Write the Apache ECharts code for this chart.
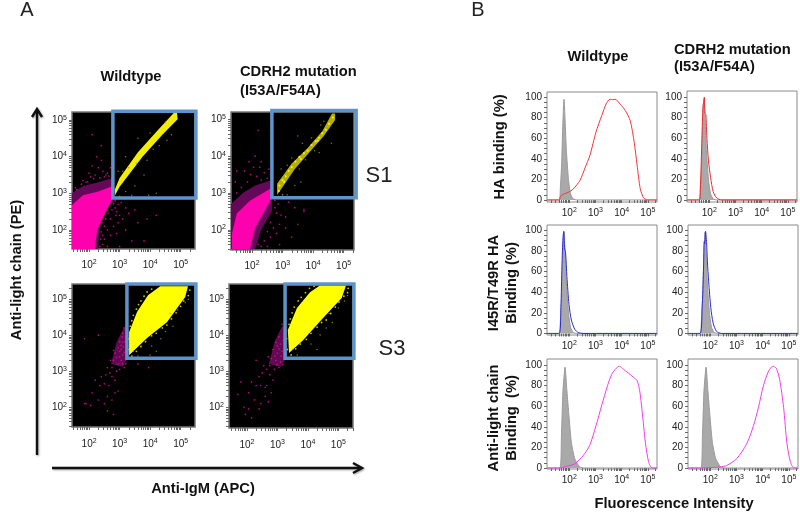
<!DOCTYPE html>
<html><head><meta charset="utf-8">
<style>html,body{margin:0;padding:0;background:#fff}#c{width:800px;height:514px}</style>
<script src="https://cdn.jsdelivr.net/npm/echarts@6/dist/echarts.min.js"></script>
</head><body><div id="c"></div>
<script>
// All x/y values below are log10(fluorescence).
const tickExponents = [2, 3, 4, 5];
const histTicks = [0, 20, 40, 60, 80, 100];

// Panel A: dense populations (outlines) and individually read speckle
const a1Dense = [[1.44,1.48],[2.19,1.48],[2.26,2.0],[2.5,2.4],[2.78,2.87],[2.78,3.2],[2.3,3.05],[1.8,2.95],[1.44,2.68]];
const a1Halo = [[1.44,1.48],[1.44,3.0],[1.8,3.2],[2.3,3.3],[2.78,3.42],[2.78,2.76],[2.46,2.46],[2.32,1.9],[2.3,1.48]];
const a1Yellow = [[2.84,3.1],[3.0,3.42],[3.6,4.12],[4.25,4.72],[4.78,5.2],[4.88,5.2],[4.9,5.02],[4.4,4.6],[3.75,4.0],[3.0,3.18],[2.85,2.95]];
const a1Pink = [[1.6,3.1],[1.75,3.25],[1.9,3.3],[2.05,3.45],[2.2,3.5],[2.1,3.75],[2.3,3.7],[2.4,3.9],[2.25,4.0],[2.45,3.6],[2.55,3.5],[2.6,3.55],[2.7,3.7],[2.0,3.55],[1.8,3.35],[1.55,3.15],[2.35,3.42],[2.5,3.45],[2.65,3.47],[2.1,4.6],[2.4,4.3],[2.15,3.4],[1.95,3.32],[2.85,2.8],[2.95,2.7],[3.05,2.75],[3.2,2.6],[2.9,2.5],[3.0,2.4],[3.1,2.3],[3.3,2.45],[3.5,2.55],[2.7,2.3],[2.8,2.1],[2.6,2.0],[2.7,1.85],[2.5,1.75],[2.9,1.9],[3.2,2.0],[3.6,2.2],[3.9,2.3],[4.2,2.4],[3.4,1.7],[3.8,1.7],[2.45,1.6],[2.6,1.55],[2.35,1.55],[3.0,1.55],[2.85,2.6],[2.95,2.2],[2.42,2.2],[2.5,2.1],[2.55,2.3],[2.62,2.45],[2.75,2.55],[2.4,1.95],[2.38,1.75],[2.45,1.85],[2.8,2.72],[2.88,2.4]];
const a1Olive = [[3.6,4.5],[3.2,3.05],[3.5,3.2],[3.0,2.92],[3.9,3.9],[4.3,4.3],[4.7,4.6],[4.2,3.0],[3.8,3.5],[3.1,3.6],[3.3,3.7],[3.55,3.82],[4.0,4.65],[4.5,4.95],[4.1,4.2],[3.4,2.95],[3.95,2.95],[4.55,4.45],[3.2,4.0],[2.95,3.6]];
const a2Dense = [[1.34,1.48],[1.93,1.48],[2.10,2.05],[2.65,2.87],[2.65,3.14],[1.93,2.79],[1.5,2.44],[1.34,1.89]];
const a2Halo = [[1.31,1.48],[1.31,2.7],[1.7,3.0],[2.1,3.2],[2.65,3.35],[2.65,2.5],[2.3,2.0],[2.1,1.48]];
const a2Yellow = [[2.82,3.25],[3.3,3.8],[3.8,4.2],[4.3,4.68],[4.62,5.16],[4.72,5.16],[4.72,4.98],[4.35,4.55],[3.85,4.08],[3.4,3.65],[2.95,3.1],[2.82,2.95]];
const a2Bright = [[2.9,3.2],[3.0,3.35],[3.1,3.45],[3.2,3.6],[3.3,3.7],[3.42,3.85],[3.55,3.98],[3.7,4.08],[3.82,4.15],[3.95,4.3],[4.08,4.4],[4.2,4.5],[4.3,4.62],[4.42,4.72],[4.52,4.88],[4.65,5.05],[3.05,3.3],[3.6,3.92],[4.15,4.42],[2.88,3.05]];
const a2Pink = [[1.5,3.0],[1.65,3.15],[1.85,3.3],[1.95,3.5],[2.15,3.45],[2.05,3.7],[2.25,3.7],[2.3,3.85],[2.1,4.0],[2.4,3.55],[2.5,3.4],[2.55,3.65],[1.9,3.85],[2.2,4.7],[1.75,3.6],[1.45,3.3],[2.3,3.35],[1.5,3.6],[2.6,3.5],[2.75,2.8],[2.85,2.7],[3.0,2.85],[3.2,2.75],[2.8,2.45],[2.95,2.4],[3.1,2.35],[3.4,2.6],[3.7,2.5],[2.6,2.2],[2.7,2.05],[2.5,1.95],[2.6,1.8],[2.4,1.7],[2.8,1.9],[3.1,2.05],[3.5,2.15],[3.7,2.55],[3.3,1.8],[2.3,1.55],[2.5,1.55],[2.2,1.6],[2.9,1.6],[2.75,2.6],[2.9,2.15],[3.0,2.95]];
const a2Olive = [[3.5,4.55],[3.0,2.95],[3.15,2.95],[3.4,3.2],[3.75,3.9],[4.2,4.1],[4.6,4.35],[3.6,3.3],[3.15,3.75],[3.3,3.95],[3.65,4.35],[3.95,4.5],[4.35,4.95],[4.05,4.15],[4.45,4.75],[3.05,3.45],[4.25,4.85],[3.95,4.25],[2.95,3.65],[3.55,3.65]];
const a3Yellow = [[3.31,3.44],[3.31,4.08],[3.57,4.64],[3.93,5.11],[4.33,5.36],[5.24,5.36],[5.15,5.06],[4.55,4.36],[3.9,3.92]];
const a3Edge = [[3.4,4.4],[3.45,4.55],[3.55,4.72],[3.62,4.85],[3.7,4.95],[3.8,5.08],[3.9,5.2],[4.05,5.28],[3.35,4.25],[3.28,3.9],[3.3,3.6],[3.4,3.42],[3.55,3.55],[3.7,3.68],[3.85,3.82],[4.05,3.98],[4.2,4.05],[4.4,4.2],[4.55,4.28],[4.7,4.45],[4.85,4.62],[5.0,4.8],[5.1,4.95],[5.25,5.1],[5.3,5.25],[3.5,4.3],[3.45,3.95],[3.42,3.7]];
const a3Pink = [[3.15,4.2],[3.2,3.95],[3.1,3.8],[3.25,3.7],[3.05,3.6],[3.2,3.55],[2.95,3.65],[3.1,3.45],[3.0,3.4],[3.22,3.35],[2.85,3.5],[2.8,3.3],[2.95,3.2],[3.1,3.2],[2.7,3.3],[2.75,3.1],[2.9,3.0],[3.0,3.05],[2.6,3.1],[2.55,2.9],[2.75,2.85],[2.85,2.75],[2.4,2.85],[2.5,2.65],[2.65,2.6],[2.35,2.6],[2.2,2.75],[2.1,2.4],[2.6,2.3],[2.85,2.4],[2.3,2.2],[2.5,2.1],[2.75,2.2],[1.9,2.1],[2.05,2.05],[2.6,1.9],[2.8,1.8],[1.85,2.1],[2.95,2.45],[3.05,3.3],[3.15,3.1],[3.0,3.55],[3.12,3.68],[3.18,3.82],[3.08,3.95],[3.0,3.82],[2.9,3.38],[2.8,3.58],[3.2,3.2],[2.68,2.95],[1.85,3.9],[2.3,4.0],[3.6,3.2],[3.95,3.1],[3.05,3.72],[3.15,3.52],[3.22,4.05],[3.1,4.05]];
const a3Cluster = [[2.72,3.2],[3.1,3.12],[3.28,3.38],[3.28,4.15],[3.15,4.22],[2.9,3.8]];
const a3Olive = [[3.45,3.55],[3.6,3.42],[4.05,3.7],[4.2,3.55],[4.5,4.1],[4.75,4.25],[4.9,4.7],[5.15,4.9],[3.7,3.7],[4.35,3.9],[4.0,3.45],[5.25,5.0],[4.65,4.6]];
const a4Yellow = [[3.38,3.5],[3.34,4.14],[3.64,4.75],[4.07,5.19],[4.39,5.38],[5.25,5.38],[5.11,5.03],[4.49,4.47],[3.84,3.86]];
const a4Edge = [[3.42,4.45],[3.48,4.62],[3.55,4.78],[3.68,4.95],[3.78,5.05],[3.92,5.18],[4.05,5.3],[4.2,5.36],[3.38,4.3],[3.3,3.9],[3.32,3.6],[3.45,3.45],[3.6,3.62],[3.75,3.75],[3.95,3.88],[4.1,4.05],[4.3,4.22],[4.45,4.35],[4.6,4.42],[4.75,4.6],[4.9,4.78],[5.02,4.92],[5.18,5.08],[5.3,5.18],[5.32,5.3],[3.5,4.3]];
const a4Pink = [[3.15,4.3],[3.25,4.05],[3.05,3.95],[3.2,3.85],[3.1,3.75],[3.25,3.65],[2.95,3.8],[3.15,3.55],[3.0,3.5],[3.28,3.45],[2.85,3.6],[2.8,3.35],[2.95,3.3],[3.1,3.25],[2.7,3.4],[2.75,3.15],[2.9,3.05],[3.05,3.1],[2.55,3.15],[2.5,2.95],[2.75,2.9],[2.85,2.75],[2.4,2.85],[2.45,2.6],[2.65,2.6],[2.3,2.6],[2.15,2.7],[2.05,2.4],[2.6,2.3],[2.8,2.4],[2.25,2.2],[2.45,2.1],[2.7,2.15],[1.9,2.0],[2.05,1.95],[1.95,1.8],[2.4,1.95],[2.15,1.7],[2.6,2.55],[1.8,2.7],[1.7,2.35],[2.3,3.3],[3.0,3.7],[3.12,3.42],[2.92,3.42],[3.18,3.18],[2.65,3.05],[3.05,3.62],[3.22,3.95],[2.98,3.18]];
const a4Cluster = [[2.72,3.2],[3.1,3.12],[3.3,3.38],[3.3,4.15],[3.16,4.25],[2.92,3.85]];
const a4Olive = [[3.5,3.6],[3.65,3.45],[4.1,3.75],[4.3,3.6],[4.6,4.2],[4.8,4.35],[5.0,4.75],[5.2,4.95],[3.75,3.75],[4.4,4.0],[4.7,4.6],[5.3,5.1]];
const a1Box = [[2.78,2.87],[5.5,5.24]];
const a2Box = [[2.65,2.87],[5.41,5.24]];
const a3Box = [[3.24,3.36],[5.5,5.42]];
const a4Box = [[3.25,3.36],[5.51,5.42]];

// Panel B: % of max histograms
const isoNarrow = [[1.15,0],[1.61,0],[1.66,12],[1.71,35],[1.75,70],[1.80,98],[1.84,78],[1.89,48],[1.97,20],[2.05,6],[2.15,1],[2.3,0],[5.35,0]];
const isoWide = [[1.15,0],[1.64,0],[1.70,30],[1.76,75],[1.84,98],[1.91,75],[1.99,50],[2.08,25],[2.21,9],[2.40,1],[2.6,0],[5.35,0]];
const haWt = [[1.15,0],[1.61,0],[1.66,3.2],[1.77,5.5],[1.96,7.4],[2.15,10.6],[2.41,19],[2.60,31],[2.79,43.5],[3.02,66],[3.24,82],[3.41,93.5],[3.56,98],[3.66,97.5],[3.75,98],[3.95,93],[4.14,87],[4.33,77],[4.48,56],[4.59,34],[4.71,11],[4.84,2],[4.99,0],[5.35,0]];
const haMut = [[1.15,0],[1.61,0],[1.66,10],[1.72,60],[1.76,92],[1.79,95],[1.81,100],[1.84,84],[1.87,83],[1.91,60],[1.97,38],[2.05,22],[2.15,8],[2.28,2],[2.47,0],[5.35,0]];
const i45Wt = [[1.15,0],[1.61,0],[1.68,25],[1.72,65],[1.76,93],[1.79,99],[1.82,83],[1.86,78],[1.91,55],[1.99,28],[2.08,13],[2.21,4],[2.34,1],[2.53,0],[5.35,0]];
const i45Mut = [[1.15,0],[1.60,0],[1.69,25],[1.74,60],[1.77,89],[1.79,87],[1.82,99],[1.86,88],[1.89,70],[1.94,50],[2.02,25],[2.11,10],[2.24,2],[2.43,0],[5.35,0]];
const lcWt = [[1.15,0],[1.64,0],[1.89,1.6],[2.21,4],[2.53,12],[2.78,22],[3.02,41],[3.24,61],[3.46,80],[3.62,91],[3.79,97],[3.91,99],[4.07,96],[4.27,92],[4.46,88],[4.59,85],[4.69,75],[4.78,56],[4.91,24],[5.03,6],[5.16,0],[5.35,0]];
const lcMut = [[1.15,0],[1.64,0],[2.10,0.5],[2.37,1],[2.62,2.3],[3.01,9],[3.39,23.5],[3.65,41],[3.84,59],[4.03,80],[4.23,94.5],[4.39,99],[4.52,97],[4.65,86],[4.80,59],[4.93,23.5],[5.06,6],[5.19,0],[5.35,0]];

const FONT = 'Liberation Sans';
const minorLog = [];
for (let d = 1; d <= 5; d++) for (let m = 1; m <= 9; m++) minorLog.push(d + Math.log10(m));

const grids = [], xAxes = [], yAxes = [], series = [];
function axisText(size) {
  return { color:'#222', fontFamily:FONT, fontSize:size, rich:{
    b:{fontSize:size, fontFamily:FONT, color:'#222'},
    s:{fontSize:size*0.7, fontFamily:FONT, color:'#222', padding:[0,0,size*0.45,0]} } };
}
function addGrid(g, bg, border, bw, xr, yr, yTicks, yMinor) {
  const i = grids.length;
  grids.push({left:g[0], top:g[1], width:g[2]-g[0], height:g[3]-g[1], show:true, backgroundColor:bg, borderColor:border, borderWidth:bw});
  const range = (v, r) => v >= r[0] && v <= r[1];
  xAxes.push({type:'value', gridIndex:i, min:xr[0], max:xr[1], splitLine:{show:false},
    axisLine:{show:false},
    axisTick:{show:true, length:3, lineStyle:{color:'#666', width:1}, customValues:minorLog.filter(v=>range(v,xr))},
    axisLabel:Object.assign({show:true, margin:g[4], customValues:tickExponents, hideOverlap:false, formatter:v=>'{b|10}{s|'+v+'}'}, axisText(10))});
  yAxes.push({type:'value', gridIndex:i, min:yr[0], max:yr[1], splitLine:{show:false},
    axisLine:{show:false},
    axisTick:{show:true, length:3, lineStyle:{color:'#666', width:1}, customValues:yMinor.filter(v=>range(v,yr))},
    axisLabel:Object.assign({show:true, margin:5, customValues:yTicks, hideOverlap:false, formatter:yTicks===tickExponents?(v=>'{b|10}{s|'+v+'}'):(v=>'{b|'+v+'}')}, axisText(10))});
  return i;
}
function polygon(i, pts, color, z) {
  series.push({type:'custom', xAxisIndex:i, yAxisIndex:i, z:z, silent:true, data:[pts[0]], clip:false,
    renderItem:(p, api)=>({type:'polygon', shape:{points:pts.map(q=>api.coord(q))}, style:{fill:color}})});
}
function box(i, b) {
  series.push({type:'custom', xAxisIndex:i, yAxisIndex:i, z:9, silent:true, data:[b[0]], clip:false,
    renderItem:(p, api)=>{const a=api.coord(b[0]), c=api.coord(b[1]);
      return {type:'rect', shape:{x:a[0], y:c[1], width:c[0]-a[0], height:a[1]-c[1]}, style:{fill:'none', stroke:'#5f94c9', lineWidth:3.5}};}});
}
function dots(i, pts, color, size, z) {
  series.push({type:'scatter', xAxisIndex:i, yAxisIndex:i, z:z, symbolSize:size, silent:true, data:pts, itemStyle:{color:color}});
}
function hist(i, pts, color, filled) {
  series.push({type:'line', xAxisIndex:i, yAxisIndex:i, z:filled?2:3, data:pts, showSymbol:false, silent:true, smooth:filled?0.2:0.25, clip:true,
    lineStyle:{color:color, width:1}, areaStyle:filled?{color:'#a9a9a9', opacity:1}:undefined});
}
const flowPanels = [
  {g:[72,112,195,249,10], xr:[1.44,5.47], yr:[1.48,5.22], dense:a1Dense, halo:a1Halo, yel:a1Yellow, yc:'#f2ee00', pink:a1Pink, olive:a1Olive, box:a1Box},
  {g:[231,112,354,250,10], xr:[1.31,5.34], yr:[1.45,5.2], dense:a2Dense, halo:a2Halo, yel:a2Yellow, yc:'#b8b000', bright:a2Bright, pink:a2Pink, olive:a2Olive, box:a2Box},
  {g:[72,284,195,427,11], xr:[1.44,5.47], yr:[1.45,5.42], cluster:a3Cluster, yel:a3Yellow, edge:a3Edge, pink:a3Pink, olive:a3Olive, box:a3Box},
  {g:[229,284,353,428,11], xr:[1.41,5.48], yr:[1.42,5.42], cluster:a4Cluster, yel:a4Yellow, edge:a4Edge, pink:a4Pink, olive:a4Olive, box:a4Box}
];
flowPanels.forEach(p=>{
  const i = addGrid(p.g, '#000', '#777', 1.5, p.xr, p.yr, tickExponents, minorLog);
  if (p.halo) polygon(i, p.halo, '#66085a', 2);
  if (p.dense) polygon(i, p.dense, '#ff00ae', 3);
  if (p.cluster) polygon(i, p.cluster, '#640a52', 2);
  dots(i, p.pink, '#d4109a', 1.7, 4);
  polygon(i, p.yel, p.yc||'#ffff00', 5);
  if (p.edge) dots(i, p.edge, '#f4f400', 1.8, 6);
  if (p.bright) dots(i, p.bright, '#ffff20', 2.2, 6);
  dots(i, p.olive, '#9a9a10', 1.5, 6);
  box(i, p.box);
});
const histPanels = [
  {g:[547,92,657,202,5], yr:[-2,105], iso:isoNarrow, line:haWt, c:'#f0363c'},
  {g:[687,91,797,202,5], yr:[-2,106], iso:isoNarrow, line:haMut, c:'#f0262c'},
  {g:[547,225,657,335,5], yr:[-1.5,105], iso:isoNarrow, line:i45Wt, c:'#2a2ad8'},
  {g:[688,225,798,335,5], yr:[-1.5,105], iso:isoNarrow, line:i45Mut, c:'#2a2ad8'},
  {g:[547,359,657,469,5], yr:[-1,106], iso:isoWide, line:lcWt, c:'#f03cf0'},
  {g:[688,359,798,469,5], yr:[-1,106], iso:isoWide, line:lcMut, c:'#f03cf0'}
];
const histMinor = [];
for (let v = 0; v <= 100; v += 5) histMinor.push(v);
histPanels.forEach(p=>{
  const i = addGrid(p.g, '#fff', '#8a8a8a', 1, [1.15,5.35], p.yr, histTicks, histMinor);
  hist(i, p.iso, '#9a9a9a', true);
  hist(i, p.line, p.c, false);
});

const bold = {fontFamily:FONT, fontWeight:'bold', fontSize:14.7, fill:'#111'};
function txt(x, y, t, opt, rot) {
  return {type:'text', x:x, y:y, rotation:rot||0, z:20, silent:true,
    style:Object.assign({text:t, align:'center', verticalAlign:'middle'}, bold, opt||{})};
}
const left = {align:'left'};
const big = {fontWeight:'normal', fontSize:20, fill:'#222'};
const R = Math.PI/2;
const arrowStyle = {stroke:'#111', lineWidth:2.4, fill:'none', shadowColor:'rgba(0,0,0,0.35)', shadowBlur:2, shadowOffsetX:1, shadowOffsetY:1};
const graphics = [
  txt(27,10,'A',big), txt(478,10,'B',big),
  txt(131,77,'Wildtype'),
  txt(240,72,'CDRH2 mutation',left), txt(240,91,'(I53A/F54A)',left),
  txt(598,57,'Wildtype'),
  txt(674,50,'CDRH2 mutation',left), txt(674,67,'(I53A/F54A)',left),
  txt(379,176,'S1',{fontWeight:'normal',fontSize:22,fill:'#222'}),
  txt(392,349,'S3',{fontWeight:'normal',fontSize:22,fill:'#222'}),
  txt(17,270,'Anti-light chain (PE)',{},R),
  txt(203,489,'Anti-IgM (APC)'),
  txt(500,147,'HA binding (%)',{},R),
  txt(494,283,'I45R/T49R HA',{},R), txt(512,283,'Binding (%)',{},R),
  txt(494,418,'Anti-light chain',{},R), txt(512,418,'Binding  (%)',{},R),
  txt(674,504,'Fluorescence Intensity'),
  {type:'line', z:20, silent:true, shape:{x1:37,y1:455,x2:37,y2:110}, style:arrowStyle},
  {type:'polyline', z:20, silent:true, shape:{points:[[32,117],[37,109],[42,117]]}, style:arrowStyle},
  {type:'line', z:20, silent:true, shape:{x1:52,y1:468,x2:361,y2:468}, style:arrowStyle},
  {type:'polyline', z:20, silent:true, shape:{points:[[353,463],[362,468],[353,473]]}, style:arrowStyle}
];
const chart = echarts.init(document.getElementById('c'), null, {renderer:'canvas'});
chart.setOption({animation:false, backgroundColor:'#fff', tooltip:{show:false}, grid:grids, xAxis:xAxes, yAxis:yAxes, series:series, graphic:graphics});
</script></body></html>
